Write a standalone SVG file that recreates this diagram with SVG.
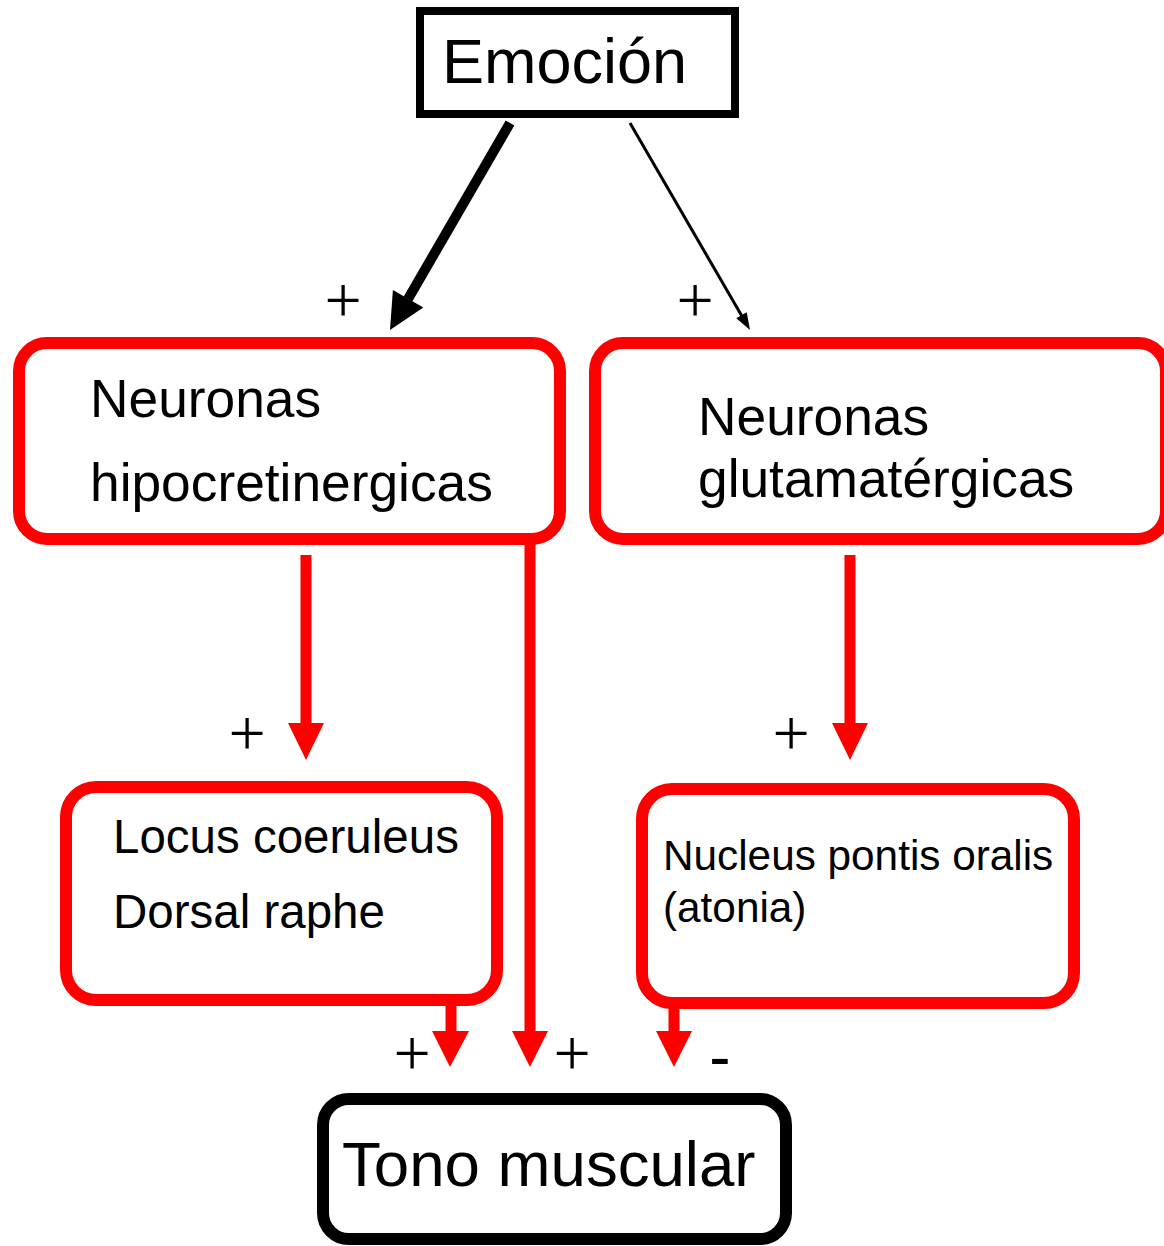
<svg xmlns="http://www.w3.org/2000/svg" width="1164" height="1246" viewBox="0 0 1164 1246">
<style>
  .lbl { font-family: "Liberation Sans", Arial, sans-serif; fill: #000; }
  .sign { font-family: "Liberation Serif", "Times New Roman", serif; font-size: 66px; fill: #000; text-anchor: middle; }
  .redbox { fill: #fff; stroke: #ff0000; stroke-width: 12; }
  .blackbox { fill: #fff; stroke: #000; }
  .redline { stroke: #ff0000; stroke-width: 11; fill: none; }
  .redhead { fill: #ff0000; }
</style>
<rect width="1164" height="1246" fill="#fff"/>

<g id="connectors">
  <!-- Emocion to hipocretinergicas (thick) -->
  <line x1="510" y1="123" x2="408" y2="299" stroke="#000" stroke-width="10"/>
  <polygon points="390,330 392.9,290 423.3,307.6" fill="#000"/>
  <!-- Emocion to glutamatergicas (thin) -->
  <line x1="630" y1="123" x2="743" y2="318" stroke="#000" stroke-width="3"/>
  <polygon points="750,330 736.3,318.3 746.7,312.3" fill="#000"/>
  <!-- hipocretinergicas to Locus -->
  <line class="redline" x1="306" y1="555" x2="306" y2="725" stroke-width="10"/>
  <polygon class="redhead" points="288,723 324,723 306,760"/>
  <!-- glutamatergicas to Nucleus -->
  <line class="redline" x1="850" y1="555" x2="850" y2="725" stroke-width="10"/>
  <polygon class="redhead" points="832,723 868,723 850,760"/>
  <!-- hipocretinergicas to Tono -->
  <line class="redline" x1="530" y1="540" x2="530" y2="1033"/>
  <polygon class="redhead" points="512,1031 548,1031 530,1067"/>
  <!-- Locus to Tono -->
  <line class="redline" x1="451" y1="1000" x2="451" y2="1033"/>
  <polygon class="redhead" points="432,1031 469,1031 450,1067"/>
  <!-- Nucleus to Tono -->
  <line class="redline" x1="674" y1="1003" x2="674" y2="1033"/>
  <polygon class="redhead" points="656,1031 692,1031 674,1067"/>
  <!-- signs -->
  <text class="sign" x="343" y="322">+</text>
  <text class="sign" x="695" y="322">+</text>
  <text class="sign" x="247" y="755">+</text>
  <text class="sign" x="791" y="755">+</text>
  <text class="sign" x="412" y="1075">+</text>
  <text class="sign" x="572" y="1075">+</text>
  <text class="lbl" x="720" y="1079" font-size="64" text-anchor="middle">-</text>
</g>

<g id="emocion">
  <rect class="blackbox" x="420" y="11" width="315" height="103" stroke-width="8"/>
  <text class="lbl" x="442" y="83" font-size="63">Emoción</text>
</g>

<g id="hipocretinergicas">
  <rect class="redbox" x="19" y="343" width="541" height="196" rx="28"/>
  <text class="lbl" x="90" y="417" font-size="53.3">Neuronas</text>
  <text class="lbl" x="90" y="501" font-size="53.3">hipocretinergicas</text>
</g>

<g id="glutamatergicas">
  <rect class="redbox" x="595" y="343" width="571" height="196" rx="28"/>
  <text class="lbl" x="698" y="435" font-size="53.3">Neuronas</text>
  <text class="lbl" x="698" y="497" font-size="53.3">glutamatérgicas</text>
</g>

<g id="locus">
  <rect class="redbox" x="66" y="787" width="431" height="213" rx="30"/>
  <text class="lbl" x="113" y="853" font-size="47.5">Locus coeruleus</text>
  <text class="lbl" x="113" y="928" font-size="47.5">Dorsal raphe</text>
</g>

<g id="nucleus">
  <rect class="redbox" x="642" y="789" width="432" height="214" rx="30"/>
  <text class="lbl" x="663" y="870" font-size="42.3">Nucleus pontis oralis</text>
  <text class="lbl" x="663" y="922" font-size="42.3">(atonia)</text>
</g>

<g id="tono">
  <rect class="blackbox" x="323" y="1099" width="463" height="140" rx="26" stroke-width="12"/>
  <text class="lbl" x="342" y="1186" font-size="63.6">Tono muscular</text>
</g>
</svg>
